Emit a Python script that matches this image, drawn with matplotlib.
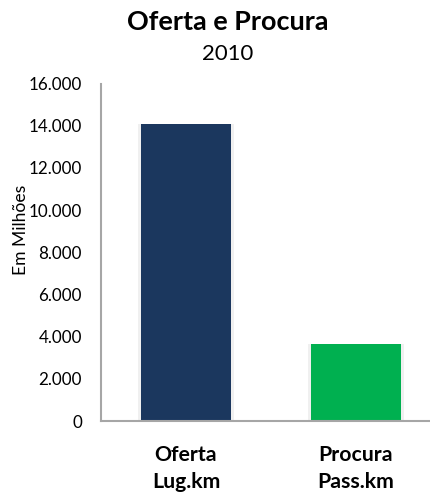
import matplotlib
matplotlib.use("Agg")
import matplotlib.pyplot as plt
from matplotlib.ticker import FuncFormatter

categories = ["Oferta\nLug.km", "Procura\nPass.km"]
values = [14080, 3650]
colors = ["#1b375e", "#00b050"]
yticks = [0, 2000, 4000, 6000, 8000, 10000, 12000, 14000, 16000]
title = "Oferta e Procura"
subtitle = "2010"
ylabel = "Em Milhões"

plt.rcParams['font.family'] = ['Lato', 'DejaVu Sans']

W, H = 431, 493
fig = plt.figure(figsize=(W/100, H/100), dpi=100)
renderer = fig.canvas.get_renderer()


def fit(text, target_px, fs0=12, **kw):
    t = fig.text(0, 0, text, fontsize=fs0, **kw)
    w = t.get_window_extent(renderer).width
    t.remove()
    return fs0 * target_px / w


ax = fig.add_axes([101/W, (H-421)/H, 340/W, 337.5/H])
x = list(range(len(categories)))
# soft shadow behind bars
ax.bar(x, values, width=0.56, color='#f0f0f0', zorder=2)
ax.bar(x, values, width=0.535, color=colors, zorder=3)
ax.set_xlim(-0.5, 1.5)
ax.set_ylim(0, 16000)
ax.set_yticks(yticks)
ax.yaxis.set_major_formatter(FuncFormatter(lambda v, p: f"{int(v):,}".replace(",", ".")))
tick_fs = fit("16.000", 53)
ax.tick_params(axis='y', length=0, pad=19*0.72, labelsize=tick_fs)
cat_fs = (fit("Oferta", 60, fontweight='bold') + fit("Procura", 75, fontweight='bold')
          + fit("Pass.km", 79, fontweight='bold')) / 3
ax.tick_params(axis='x', length=0, pad=17, labelsize=cat_fs)
ax.set_xticks(x)
ax.set_xticklabels(categories, fontweight='bold', linespacing=1.45)
for s in ['top', 'right']:
    ax.spines[s].set_visible(False)
for s in ['left', 'bottom']:
    ax.spines[s].set_color('#a6a6a6')
    ax.spines[s].set_linewidth(1.5)
    ax.spines[s].set_zorder(4)

fig.text(227.5/W, 1 - 21.5/H, title, ha='center', va='center',
         fontsize=fit(title, 201, fontweight='bold'), fontweight='bold')
fig.text(227.5/W, 1 - 53.5/H, subtitle, ha='center', va='center',
         fontsize=fit(subtitle, 51))
fig.text(21/W, 1 - 230/H, ylabel, rotation=90, ha='center', va='center',
         fontsize=fit(ylabel, 90))

fig.savefig("out.png", dpi=100)
